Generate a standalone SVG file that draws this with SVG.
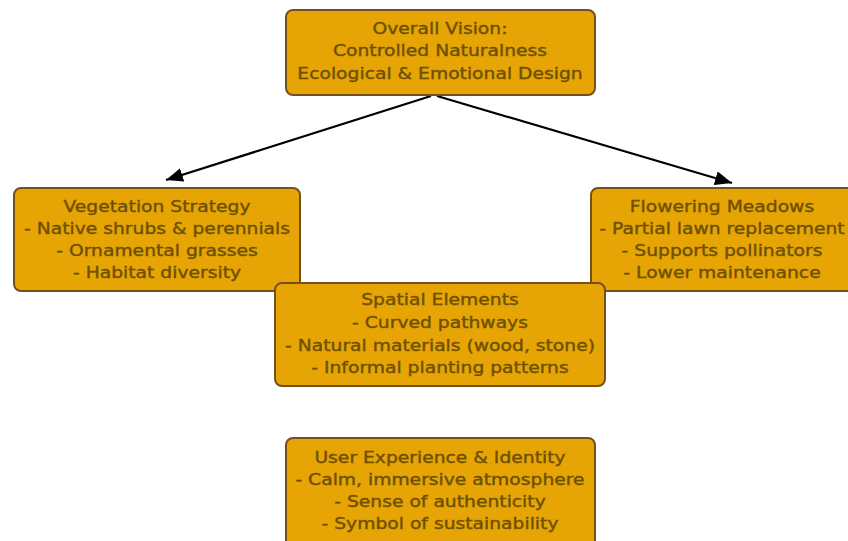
<svg xmlns="http://www.w3.org/2000/svg" width="848" height="541" viewBox="0 0 848 541">
<style>
.box{fill:#E6A504;stroke:#74501a;stroke-width:2}
.t{font-family:"DejaVu Sans",sans-serif;font-size:16px;fill:#6e5000;stroke:#6e5000;stroke-width:0.4;text-anchor:middle}
.e{stroke:#000;stroke-width:2.2;fill:none}
</style>
<defs>
<marker id="a" viewBox="0 0 17 14" refX="17" refY="7" markerWidth="17" markerHeight="14" orient="auto" markerUnits="userSpaceOnUse">
<path d="M0,0 L17,7 L0,14 z" fill="#000"/>
</marker>
</defs>
<rect width="848" height="541" fill="#fff"/>
<g id="connectors">
<line class="e" x1="431" y1="96" x2="166" y2="180" marker-end="url(#a)"/>
<line class="e" x1="437" y1="96" x2="732" y2="183" marker-end="url(#a)"/>
</g>
<g id="vision">
<rect class="box" x="286" y="10" width="309" height="85" rx="7"/>
<g transform="translate(440 0) scale(1.17 1)">
<text class="t" x="0" y="34">Overall Vision:</text>
<text class="t" x="0" y="56">Controlled Naturalness</text>
<text class="t" x="0" y="79">Ecological &amp; Emotional Design</text>
</g>
</g>
<g id="vegetation">
<rect class="box" x="14" y="188" width="286" height="103" rx="7"/>
<g transform="translate(157 0) scale(1.17 1)">
<text class="t" x="0" y="212">Vegetation Strategy</text>
<text class="t" x="0" y="234">- Native shrubs &amp; perennials</text>
<text class="t" x="0" y="256">- Ornamental grasses</text>
<text class="t" x="0" y="278">- Habitat diversity</text>
</g>
</g>
<g id="meadows">
<rect class="box" x="591" y="188" width="270" height="103" rx="7"/>
<g transform="translate(722 0) scale(1.17 1)">
<text class="t" x="0" y="212">Flowering Meadows</text>
<text class="t" x="0" y="234">- Partial lawn replacement</text>
<text class="t" x="0" y="256">- Supports pollinators</text>
<text class="t" x="0" y="278">- Lower maintenance</text>
</g>
</g>
<g id="spatial">
<rect class="box" x="275" y="283" width="330" height="103" rx="7"/>
<g transform="translate(440 0) scale(1.17 1)">
<text class="t" x="0" y="305">Spatial Elements</text>
<text class="t" x="0" y="328">- Curved pathways</text>
<text class="t" x="0" y="351">- Natural materials (wood, stone)</text>
<text class="t" x="0" y="373">- Informal planting patterns</text>
</g>
</g>
<g id="experience">
<rect class="box" x="286" y="438" width="309" height="110" rx="7"/>
<g transform="translate(440 0) scale(1.17 1)">
<text class="t" x="0" y="463">User Experience &amp; Identity</text>
<text class="t" x="0" y="485">- Calm, immersive atmosphere</text>
<text class="t" x="0" y="507">- Sense of authenticity</text>
<text class="t" x="0" y="529">- Symbol of sustainability</text>
</g>
</g>
</svg>
